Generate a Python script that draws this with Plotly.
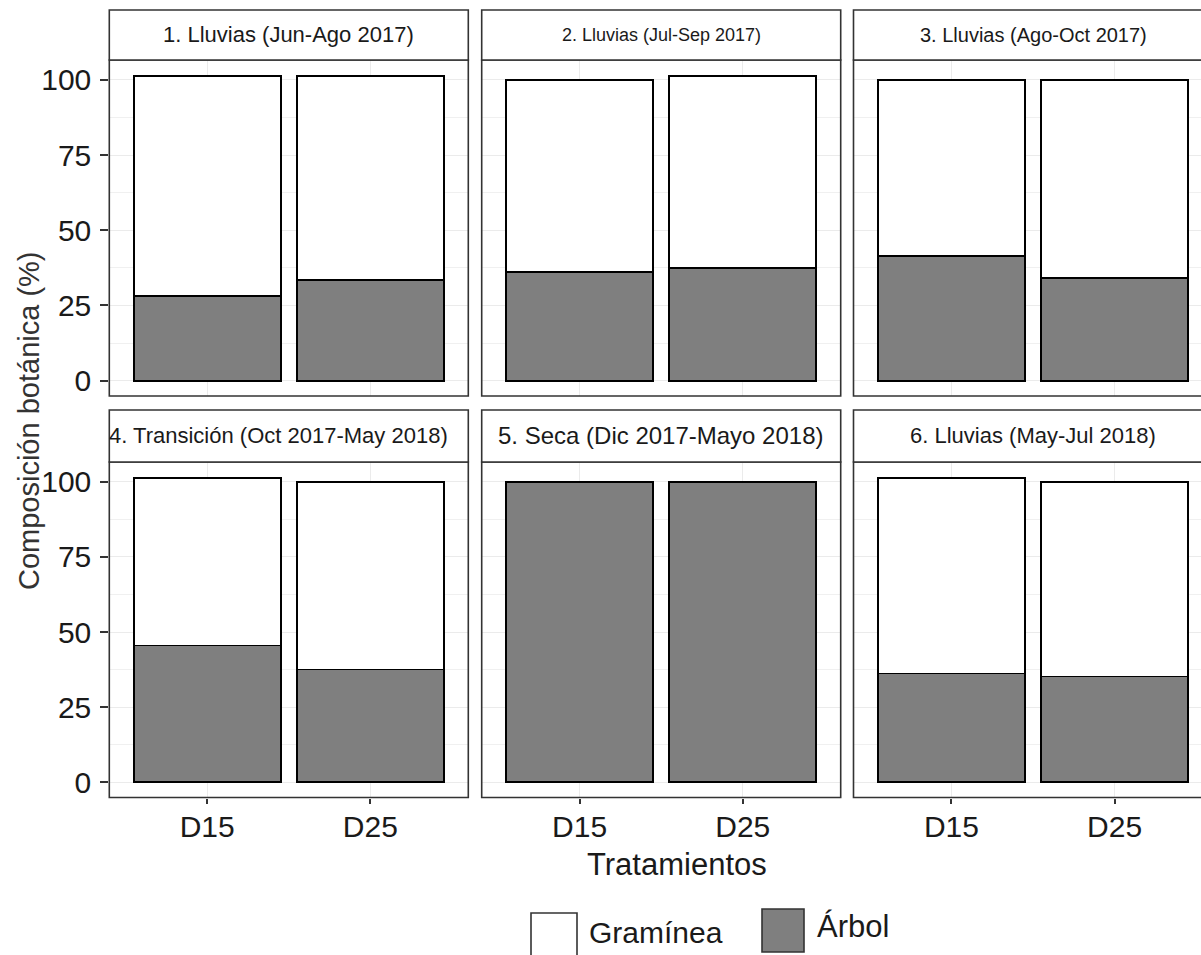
import plotly.graph_objects as go

# ---------------- data ----------------
periods = [
    "1. Lluvias (Jun-Ago 2017)",
    "2. Lluvias (Jul-Sep 2017)",
    "3. Lluvias (Ago-Oct 2017)",
    "4. Transición (Oct 2017-May 2018)",
    "5. Seca (Dic 2017-Mayo 2018)",
    "6. Lluvias (May-Jul 2018)",
]
treatments = ["D15", "D25"]
arbol = [
    [28.2, 33.5],
    [36.2, 37.5],
    [41.4, 34.0],
    [45.5, 37.5],
    [100.0, 100.0],
    [36.2, 35.2],
]
graminea = [
    [73.1, 67.8],
    [63.8, 63.8],
    [58.6, 66.0],
    [55.9, 62.5],
    [0.0, 0.0],
    [65.2, 64.8],
]
y_ticks = [0, 25, 50, 75, 100]
y_minor = [12.5, 37.5, 62.5, 87.5]
legend_labels = ["Gramínea", "Árbol"]
x_title = "Tratamientos"
y_title = "Composición botánica (%)"

# ---------------- layout geometry (pixels) ----------------
W, H = 1201, 955
FONT = "Liberation Sans, Arial, sans-serif"
cols = [(109.3, 468.3), (481.7, 840.7), (853.5, 1214.0)]
rows = [(60.0, 396.0), (462.0, 797.5)]
strips = [(10.0, 60.0), (410.0, 462.0)]
strip_sizes = [22, 18, 20, 22, 24, 22]
strip_shift = [0, 0, 0, -10, 0, 0]
y_range = [-5.1, 106.6]
unit_px = (cols[0][1] - cols[0][0]) / 2.2


def px(xp):
    return xp / W


def py(yp):
    return 1 - yp / H


fig = go.Figure()
shapes = []
annotations = []

for i, period in enumerate(periods):
    r, c = divmod(i, 3)
    k = i + 1
    xa = "x" if k == 1 else f"x{k}"
    ya = "y" if k == 1 else f"y{k}"
    fig.add_trace(go.Bar(
        x=treatments, y=arbol[i], name=legend_labels[1], xaxis=xa, yaxis=ya,
        marker=dict(color="#7F7F7F", line=dict(color="black", width=1.8)),
        width=0.9, showlegend=False, hoverinfo="x+y+name"))
    fig.add_trace(go.Bar(
        x=treatments, y=graminea[i], name=legend_labels[0], xaxis=xa, yaxis=ya,
        marker=dict(color="white", line=dict(color="black", width=1.8)),
        width=0.9, showlegend=False, hoverinfo="x+y+name"))

    x0, x1 = cols[c]
    vis_x1 = min(x1, W)
    y0, y1 = rows[r]
    xr1 = -0.6 + (vis_x1 - x0) / unit_px
    xkey = "xaxis" if k == 1 else f"xaxis{k}"
    ykey = "yaxis" if k == 1 else f"yaxis{k}"
    fig.update_layout(**{
        xkey: dict(
            domain=[px(x0), px(vis_x1)], anchor=ya, range=[-0.6, xr1],
            type="category", showgrid=True, gridcolor="#EBEBEB", gridwidth=1.2,
            zeroline=False, showline=False, fixedrange=True,
            showticklabels=(r == 1), ticks="outside" if r == 1 else "",
            ticklen=5, tickwidth=1.5, tickcolor="#333333",
            tickfont=dict(family=FONT, size=30, color="#1A1A1A"),
            ticklabelstandoff=-3,
        ),
        ykey: dict(
            domain=[py(y1), py(y0)], anchor=xa, range=y_range,
            tickvals=y_ticks, showgrid=True, gridcolor="#EBEBEB", gridwidth=1.2,
            minor=dict(tickvals=y_minor, showgrid=True, gridcolor="#F0F0F0", gridwidth=0.8),
            zeroline=False, showline=False, fixedrange=True,
            showticklabels=(c == 0), ticks="outside" if c == 0 else "",
            ticklen=8, tickwidth=1.5, tickcolor="#333333",
            tickfont=dict(family=FONT, size=30, color="#1A1A1A"),
            ticklabelstandoff=3,
        ),
    })
    # panel border
    shapes.append(dict(type="rect", xref="paper", yref="paper",
                       x0=px(x0), x1=px(x1), y0=py(y1), y1=py(y0),
                       line=dict(color="#333333", width=1.6), fillcolor="rgba(0,0,0,0)",
                       layer="above"))
    # strip
    s0, s1 = strips[r]
    shapes.append(dict(type="rect", xref="paper", yref="paper",
                       x0=px(x0), x1=px(x1), y0=py(s1), y1=py(s0),
                       line=dict(color="#333333", width=1.6), fillcolor="white",
                       layer="above"))
    annotations.append(dict(
        text=period, xref="paper", yref="paper",
        x=px(cols[c][0] + 179.5 + strip_shift[i]), y=py((s0 + s1) / 2),
        xanchor="center", yanchor="middle", showarrow=False,
        font=dict(family=FONT, size=strip_sizes[i], color="#1A1A1A")))

# axis titles
annotations.append(dict(text=x_title, xref="paper", yref="paper",
                        x=px(677), y=py(864), xanchor="center", yanchor="middle",
                        showarrow=False, font=dict(family=FONT, size=31, color="#1A1A1A")))
annotations.append(dict(text=y_title, xref="paper", yref="paper",
                        x=px(29), y=py(421), xanchor="center", yanchor="middle",
                        textangle=-90, showarrow=False,
                        font=dict(family=FONT, size=29, color="#333333")))

# legend (manual keys)
shapes.append(dict(type="rect", xref="paper", yref="paper",
                   x0=px(531), x1=px(577), y0=py(958), y1=py(913),
                   line=dict(color="#333333", width=1.6), fillcolor="white"))
shapes.append(dict(type="rect", xref="paper", yref="paper",
                   x0=px(762), x1=px(804), y0=py(952), y1=py(909),
                   line=dict(color="#333333", width=1.6), fillcolor="#7F7F7F"))
annotations.append(dict(text=legend_labels[0], xref="paper", yref="paper",
                        x=px(587), y=py(932), xanchor="left", yanchor="middle",
                        showarrow=False, font=dict(family=FONT, size=30, color="#1A1A1A")))
annotations.append(dict(text=legend_labels[1], xref="paper", yref="paper",
                        x=px(815), y=py(926), xanchor="left", yanchor="middle",
                        showarrow=False, font=dict(family=FONT, size=31, color="#1A1A1A")))

fig.update_layout(
    width=W, height=H, margin=dict(l=0, r=0, t=0, b=0),
    barmode="stack", bargap=0.1,
    plot_bgcolor="white", paper_bgcolor="white",
    shapes=shapes, annotations=annotations, showlegend=False,
    font=dict(family=FONT),
)

fig.write_html("out.html", config={"displayModeBar": False},
               post_script="document.body.style.margin='0px';document.body.style.overflow='hidden';")
